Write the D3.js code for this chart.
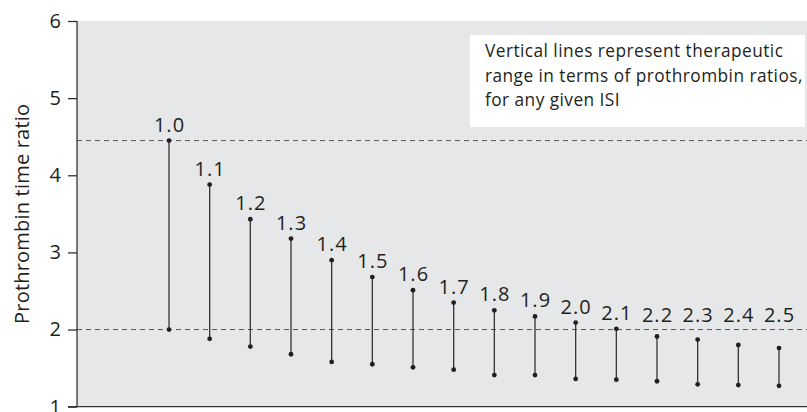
<!DOCTYPE html>
<html><head><meta charset="utf-8">
<script src="https://cdn.jsdelivr.net/npm/d3@7"></script>
<style>body{margin:0;background:#fff;} svg{display:block;} text{font-family:"Open Sans",sans-serif;fill:#231f20;}</style>
</head><body>
<svg id="chart" width="807" height="412"></svg>
<script>
const isi = ["1.0","1.1","1.2","1.3","1.4","1.5","1.6","1.7","1.8","1.9","2.0","2.1","2.2","2.3","2.4","2.5"];
const upper = [4.45,3.88,3.43,3.18,2.90,2.68,2.51,2.35,2.25,2.17,2.09,2.01,1.91,1.87,1.80,1.76];
const lower = [2.00,1.88,1.78,1.68,1.58,1.55,1.51,1.48,1.41,1.41,1.36,1.35,1.33,1.29,1.28,1.27];
const refLines = [2.0, 4.45];
const yTicks = [1,2,3,4,5,6];
const noteLines = ["Vertical lines represent therapeutic","range in terms of prothrombin ratios,","for any given ISI"];
const yTitle = "Prothrombin time ratio";

const svg = d3.select("#chart");
const L = 77, R = 807, T = 21, B = 406.7;
const y = d3.scaleLinear().domain([1,6]).range([B,T]);
const x = d3.scalePoint().domain(isi).range([169, 779]);

svg.append("rect").attr("x",L).attr("y",T).attr("width",R-L).attr("height",B-T).attr("fill","#e6e7e8");

// note box
svg.append("rect").attr("x",470).attr("y",35).attr("width",335).attr("height",92).attr("fill","#fff");
svg.append("g").selectAll("text").data(noteLines).join("text")
  .attr("x",485).attr("y",(d,i)=>57+i*24.7).attr("font-size",17.3).attr("letter-spacing",0.45).text(d=>d);

// reference dashed lines
svg.append("g").selectAll("line").data(refLines).join("line")
  .attr("x1",L).attr("x2",R).attr("y1",d=>y(d)).attr("y2",d=>y(d))
  .attr("stroke","#555").attr("stroke-width",1).attr("stroke-dasharray","5,4");

// axis
const ax = svg.append("g").attr("transform",`translate(${L},0)`)
  .call(d3.axisLeft(y).tickValues(yTicks).tickFormat(d3.format("d")).tickSize(9).tickPadding(7));
ax.select(".domain").remove();
ax.selectAll(".tick line").attr("stroke","#333").attr("stroke-width",1.3);
ax.selectAll(".tick text").attr("font-size",20).attr("font-family","Open Sans").attr("fill","#231f20");
svg.append("line").attr("x1",L).attr("x2",L).attr("y1",T).attr("y2",B).attr("stroke","#333").attr("stroke-width",1.3);
svg.append("line").attr("x1",L-9).attr("x2",R).attr("y1",B).attr("y2",B).attr("stroke","#333").attr("stroke-width",1.3);

svg.append("text").attr("transform",`translate(29,${(T+B)/2}) rotate(-90)`)
  .attr("text-anchor","middle").attr("font-size",20).attr("letter-spacing",0.2).text(yTitle);

// ranges
const data = isi.map((k,i)=>({k, hi:upper[i], lo:lower[i]}));
const g = svg.append("g");
g.selectAll("line").data(data).join("line")
  .attr("x1",d=>x(d.k)).attr("x2",d=>x(d.k)).attr("y1",d=>y(d.hi)).attr("y2",d=>y(d.lo))
  .attr("stroke","#333").attr("stroke-width",1.3);
g.selectAll("circle.hi").data(data).join("circle").attr("class","hi")
  .attr("cx",d=>x(d.k)).attr("cy",d=>y(d.hi)).attr("r",2.4).attr("fill","#231f20");
g.selectAll("circle.lo").data(data).join("circle").attr("class","lo")
  .attr("cx",d=>x(d.k)).attr("cy",d=>y(d.lo)).attr("r",2.4).attr("fill","#231f20");
const labelFloor = y(2.0) - 8;
g.selectAll("text").data(data).join("text")
  .attr("x",d=>x(d.k)+0.5).attr("y",d=>Math.min(y(d.hi)-9, labelFloor))
  .attr("text-anchor","middle").attr("font-size",20).attr("letter-spacing",1).text(d=>d.k);
</script>
</body></html>
